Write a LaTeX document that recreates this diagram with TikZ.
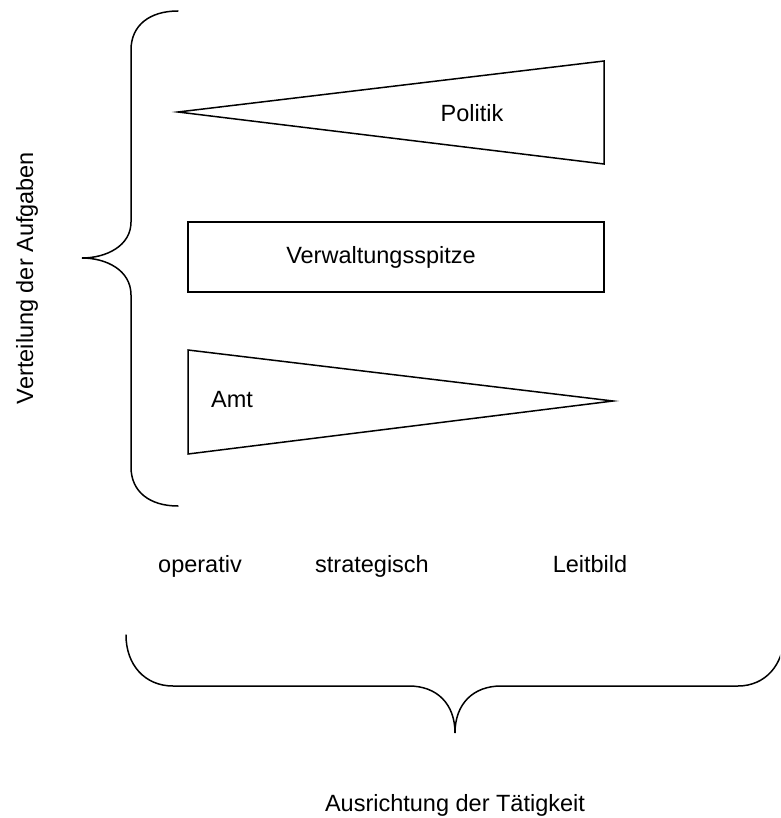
\documentclass[tikz,border=0pt]{standalone}
\usepackage{fontspec}
\setmainfont{Liberation Sans}
\begin{document}
\begin{tikzpicture}[x=1pt,y=-1pt,
  shape line/.style={draw=black,line width=1.5pt,line join=miter},
  brace line/.style={draw=black,line width=1.5pt,line cap=round},
  label text/.style={font=\fontsize{23.5}{28}\selectfont,inner sep=0pt,anchor=base}]
  \useasboundingbox (0,0) rectangle (780,818);
  \clip (0,0) rectangle (780,818);

  % the three task levels
  \draw[shape line] (178,112) -- (604,61) -- (604,164) -- cycle;
  \draw[shape line] (188,222) rectangle (604,292);
  \draw[shape line] (188,350) -- (613,401) -- (188,454) -- cycle;

  \node[label text] (politik) at (472,122) {Politik};
  \node[label text] (spitze) at (381,263) {Verwaltungsspitze};
  \node[label text] (amt) at (232,407) {Amt};

  % vertical brace: distribution of tasks
  \draw[brace line] (178,11) .. controls (150,11) and (131,25) .. (131,50)
    -- (131,222) .. controls (131,246) and (106,258) .. (82,258)
    .. controls (106,258) and (131,270) .. (131,295)
    -- (131,467) .. controls (131,492) and (150,506) .. (178,506);
  \node[label text,rotate=90] (verteilung) at (33,278) {Verteilung der Aufgaben};

  % orientation scale
  \node[label text] (operativ) at (200,572) {operativ};
  \node[label text] (strategisch) at (372,572) {strategisch};
  \node[label text] (leitbild) at (590,572) {Leitbild};

  % horizontal brace: orientation of the activity
  \draw[brace line] (126,635) .. controls (126,665) and (145,686) .. (173,686)
    -- (409,686) .. controls (437,686) and (455,704) .. (455,733)
    .. controls (455,704) and (473,686) .. (501,686)
    -- (738,686) .. controls (765,686) and (784,665) .. (784,635);
  \node[label text] (ausrichtung) at (455,811) {Ausrichtung der Tätigkeit};
\end{tikzpicture}
\end{document}
